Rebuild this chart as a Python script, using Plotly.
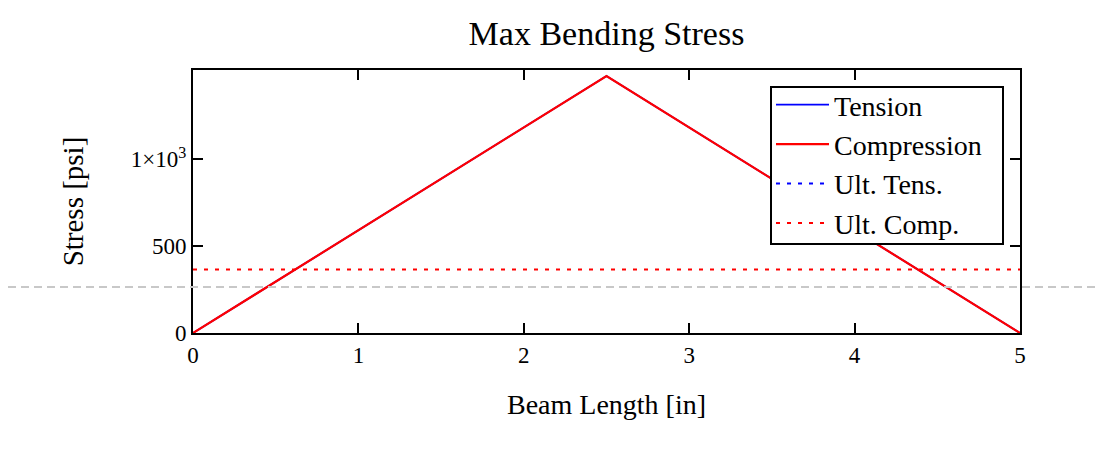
import plotly.graph_objects as go

# Data
beam_x = [0, 2.5, 5]
tension = [0, 1480, 0]
compression = [0, 1480, 0]
ult_x = [0, 5]
ult_tens = [None, None]   # not visible within the plotted range
ult_comp = [366, 366]

x_ticks = [0, 1, 2, 3, 4, 5]
y_ticks = [0, 500, 1000]
y_ticktext = ["0", "500", "1×10<sup>3</sup>"]

serif = "Liberation Serif, Times New Roman, serif"

fig = go.Figure()
fig.add_trace(go.Scatter(x=beam_x, y=tension, mode="lines", name="Tension",
                         line=dict(color="#0000ff", width=1.8)))
fig.add_trace(go.Scatter(x=beam_x, y=compression, mode="lines", name="Compression",
                         line=dict(color="#ff0000", width=2.2)))
fig.add_trace(go.Scatter(x=ult_x, y=ult_tens, mode="lines", name="Ult. Tens.",
                         line=dict(color="#0000ff", width=2, dash="4px,7px")))
fig.add_trace(go.Scatter(x=ult_x, y=ult_comp, mode="lines", name="Ult. Comp.",
                         line=dict(color="#ff0000", width=2, dash="4px,7px")))

axis_common = dict(
    showline=True, linecolor="black", linewidth=2, mirror="ticks",
    ticks="inside", ticklen=10, tickwidth=2, tickcolor="black",
    showgrid=False, zeroline=False, automargin=False,
    tickfont=dict(family=serif, size=23, color="black"),
)

L, R, T, B = 185, 95, 62, 124
W, H = 1107, 449
PW = W - L - R
PH = H - T - B

fig.update_layout(
    width=W, height=H,
    margin=dict(l=L, r=R, t=T, b=B),
    paper_bgcolor="white", plot_bgcolor="white",
    title=dict(text="Max Bending Stress", xref="paper", x=0.5, xanchor="center",
               yref="container", y=1 - 25 / H, yanchor="middle",
               font=dict(family=serif, size=34, color="black")),
    xaxis=dict(range=[0, 5], tickvals=x_ticks, ticktext=[str(v) for v in x_ticks],
               ticklabelstandoff=0,
               title=dict(text="Beam Length [in]", standoff=28,
                          font=dict(family=serif, size=28, color="black")),
               **axis_common),
    yaxis=dict(range=[0, 1515], tickvals=y_ticks, ticktext=y_ticktext,
               ticklabelstandoff=0,
               title=dict(text="Stress [psi]", standoff=39,
                          font=dict(family=serif, size=29, color="black")),
               **axis_common),
    legend=dict(x=(771 - 193) / PW, xanchor="left", y=(333 - 80) / PH, yanchor="top",
                bgcolor="rgba(0,0,0,0)", borderwidth=0,
                itemwidth=53,
                font=dict(family=serif, size=28, color="black")),
    showlegend=True,
)

# legend frame
fig.add_shape(type="rect", xref="paper", yref="paper",
              x0=(771 - 193) / PW, x1=(1003 - 193) / PW,
              y0=(333 - 244) / PH, y1=(333 - 87) / PH,
              fillcolor="white", line=dict(color="black", width=2), layer="above")

# light grey dashed overlay line spanning the full image width
fig.add_shape(type="line", xref="paper", yref="paper",
              x0=-L / PW, x1=1 + R / PW, y0=(333 - 287) / PH, y1=(333 - 287) / PH,
              line=dict(color="#c8c8c8", width=2, dash="8px,5px"), layer="above")

fig.write_html("out.html")
